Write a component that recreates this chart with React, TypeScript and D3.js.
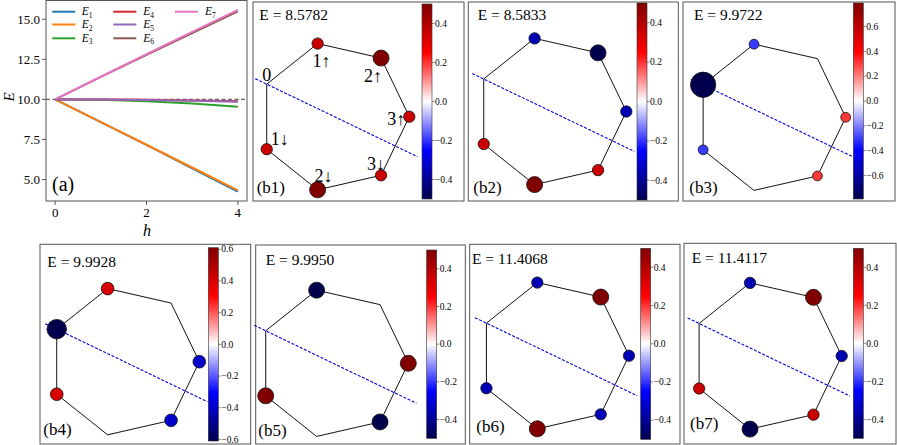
import React from 'react';
import * as d3 from 'd3';

// ---------- Panel (a) data ----------
const hValues = [0, 1, 2, 3, 4];
const E1 = [10, 8.5782, 7.16, 5.7, 4.24];
const E2 = [10, 8.5833, 7.17, 5.75, 4.32];
const E3 = [10, 9.9722, 9.89, 9.74, 9.54];
const E4 = [10, 9.9928, 9.97, 9.93, 9.89];
const E5 = [10, 9.995, 9.96, 9.91, 9.85];
const E6 = [10, 11.4068, 12.78, 14.14, 15.49];
const E7 = [10, 11.4117, 12.82, 14.21, 15.59];
const seriesLabels = ['1', '2', '3', '4', '5', '6', '7'];
const seriesColors = ['#1f77b4', '#ff7f0e', '#2ca02c', '#d62728', '#9467bd', '#8c564b', '#e377c2'];
const yTicksA = [5, 7.5, 10, 12.5, 15];
const xTicksA = [0, 2, 4];

// ---------- Panels (b) data ----------
const siteNames = ['0', '1↑', '2↑', '3↑', '3↓', '2↓', '1↓'];
const siteAngles = [-154.29, -102.86, -51.43, 0, 51.43, 102.86, 154.29];
const bonds = [[0, 1], [1, 2], [2, 3], [3, 4], [4, 5], [5, 6], [6, 0]];
const eigenEnergies = ['8.5782', '8.5833', '9.9722', '9.9928', '9.9950', '11.4068', '11.4117'];
const psiB1 = [0, 0.354, 0.5, 0.354, 0.354, 0.5, 0.354];
const psiB2 = [0, -0.354, -0.5, -0.354, 0.354, 0.5, 0.354];
const psiB3 = [-0.79, -0.307, 0, 0.307, 0.307, 0, -0.307];
const psiB4 = [-0.61, 0.396, 0, -0.396, -0.396, 0, 0.396];
const psiB5 = [0, -0.5, 0, 0.5, -0.5, 0, 0.5];
const psiB6 = [0, -0.354, 0.5, -0.354, -0.354, 0.5, -0.354];
const psiB7 = [0, -0.354, 0.5, -0.354, 0.354, -0.5, 0.354];
const colorLimits = [0.5, 0.5, 0.79, 0.61, 0.5, 0.5, 0.5];
const panelTags = ['(b1)', '(b2)', '(b3)', '(b4)', '(b5)', '(b6)', '(b7)'];
// mirror axis through site 0: from beyond site 0 to beyond the opposite bond
const axisExtent = [1.17, -1.23];

// ---------- layout (positions only) ----------
const frames = [
  { x0: 253, y0: 2, x1: 464, y1: 201, cx: 334.3, cy: 116.7, cb: [422, 4, 199], eT: [259.3, 20], tag: [256.7, 193] },
  { x0: 468.3, y0: 2, x1: 678.3, y1: 201, cx: 551.3, cy: 111.5, cb: [637, 3, 200], eT: [477.7, 20], tag: [473.3, 193] },
  { x0: 683, y0: 2, x1: 895, y1: 201, cx: 770.7, cy: 117.3, cb: [853.3, 3, 199], eT: [694, 20], tag: [689.3, 193] },
  { x0: 40, y0: 244.3, x1: 250.7, y1: 444, cx: 124.3, cy: 361.7, cb: [208.3, 247.7, 441], eT: [47.3, 266.7], tag: [43.3, 435] },
  { x0: 255.7, y0: 245, x1: 465.3, y1: 444, cx: 333.3, cy: 363.3, cb: [426.7, 250, 438.3], eT: [265.7, 265], tag: [258.3, 435.7] },
  { x0: 469.7, y0: 244.3, x1: 680, y1: 444, cx: 554, cy: 355.7, cb: [640.7, 248.3, 439.3], eT: [472, 264.3], tag: [476.3, 431.7] },
  { x0: 684, y0: 243.3, x1: 896, y1: 444, cx: 766.7, cy: 356, cb: [853.3, 248.3, 438.3], eT: [691.7, 263.3], tag: [690, 429] },
];
const siteLabelOffsets = [
  { dx: 0, dy: -3, a: 'middle' },
  { dx: -5, dy: 23, a: 'start' },
  { dx: 1, dy: 24, a: 'end' },
  { dx: -4, dy: 8, a: 'end' },
  { dx: 4, dy: -5, a: 'end' },
  { dx: -3, dy: -8, a: 'start' },
  { dx: 4, dy: -4, a: 'start' },
];

const SERIF = "'Liberation Serif', 'DejaVu Serif', serif";
const FRAME = '#555';
const seismicStops = ['#00004d', '#0000ff', '#ffffff', '#ff0000', '#800000'];

function PanelA() {
  const series = [E1, E2, E3, E4, E5, E6, E7];
  const x = d3.scaleLinear().domain([-0.2, 4.2]).range([46, 247]);
  const y = d3.scaleLinear().domain([3.66, 16.2]).range([201, 0]);
  const line = d3.line<number>().x((_, i) => x(hValues[i])).y((d) => y(d));
  const legendCols = [[52.3, 81.7], [113.3, 143.3], [175, 205]];
  const legendRows = [11.7, 24.5, 38.3];
  return (
    <g>
      <defs>
        <clipPath id="clipA"><rect x={46} y={0} width={201} height={201} /></clipPath>
      </defs>
      <g clipPath="url(#clipA)">
        <line x1={x(-0.2)} x2={x(4.2)} y1={y(10)} y2={y(10)} stroke="#666" strokeWidth={1.2} strokeDasharray="4,2.5" />
        {series.map((s, i) => (
          <path key={i} d={line(s) || ''} fill="none" stroke={seriesColors[i]} strokeWidth={2} />
        ))}
      </g>
      <rect x={46} y={0.5} width={201} height={200.5} fill="none" stroke={FRAME} strokeWidth={1} />
      {yTicksA.map((t) => (
        <g key={t}>
          <line x1={46} x2={42} y1={y(t)} y2={y(t)} stroke={FRAME} />
          <text x={40} y={y(t) + 4.5} textAnchor="end" fontFamily={SERIF} fontSize={13}>{t.toFixed(1)}</text>
        </g>
      ))}
      {xTicksA.map((t) => (
        <g key={t}>
          <line x1={x(t)} x2={x(t)} y1={201} y2={205} stroke={FRAME} />
          <text x={x(t)} y={217} textAnchor="middle" fontFamily={SERIF} fontSize={13}>{t}</text>
        </g>
      ))}
      <text x={147} y={236} textAnchor="middle" fontFamily={SERIF} fontStyle="italic" fontSize={16}>h</text>
      <text transform={`translate(14,97) rotate(-90)`} textAnchor="middle" fontFamily={SERIF} fontStyle="italic" fontSize={15}>E</text>
      <text x={52} y={191} fontFamily={SERIF} fontSize={20}>(a)</text>
      {seriesLabels.map((lab, i) => {
        const c = Math.floor(i / 3);
        const r = i % 3;
        const [lx, tx] = legendCols[c];
        const ly = legendRows[r];
        return (
          <g key={lab}>
            <line x1={lx} x2={lx + 23} y1={ly} y2={ly} stroke={seriesColors[i]} strokeWidth={2} />
            <text x={tx} y={ly + 3.5} fontFamily={SERIF} fontSize={11.5}>
              <tspan fontStyle="italic">E</tspan>
              <tspan fontSize={7.5} dy={2.5}>{lab}</tspan>
            </text>
          </g>
        );
      })}
    </g>
  );
}

function PanelB({ idx, psi }: { idx: number; psi: number[] }) {
  const f = frames[idx];
  const R = 75;
  const sx = d3.scaleLinear().domain([-1, 1]).range([f.cx - R, f.cx + R]);
  const sy = d3.scaleLinear().domain([-1, 1]).range([f.cy - R, f.cy + R]);
  const pts = siteAngles.map((a) => {
    const r = (a * Math.PI) / 180;
    return [sx(Math.cos(r)), sy(Math.sin(r))];
  });
  const vmax = colorLimits[idx];
  const color = d3.scaleLinear<string>()
    .domain([-vmax, -vmax / 2, 0, vmax / 2, vmax])
    .range(seismicStops)
    .clamp(true);
  const rad = d3.scaleLinear().domain([0, 1]).range([0, 16]);
  const a0 = (siteAngles[0] * Math.PI) / 180;
  const ux = Math.cos(a0), uy = Math.sin(a0);
  const [cbx, cby0, cby1] = f.cb;
  const cbScale = d3.scaleLinear().domain([vmax, -vmax]).range([cby0, cby1]);
  const fmt = d3.format('.1f');
  return (
    <g>
      <rect x={f.x0} y={f.y0} width={f.x1 - f.x0} height={f.y1 - f.y0} fill="white" stroke={FRAME} strokeWidth={1} />
      {bonds.map(([a, b], i) => (
        <line key={i} x1={pts[a][0]} y1={pts[a][1]} x2={pts[b][0]} y2={pts[b][1]} stroke="#111" strokeWidth={1} />
      ))}
      <line
        x1={sx(axisExtent[0] * ux)}
        y1={sy(axisExtent[0] * uy)}
        x2={sx(axisExtent[1] * ux)}
        y2={sy(axisExtent[1] * uy)}
        stroke="#0000dd" strokeWidth={1.1} strokeDasharray="3,1.6"
      />
      {psi.map((v, i) =>
        v === 0 ? null : (
          <circle key={i} cx={pts[i][0]} cy={pts[i][1]} r={rad(Math.abs(v))} fill={color(v)} stroke="#111" strokeWidth={0.8} />
        )
      )}
      {idx === 0 &&
        siteNames.map((n, i) => (
          <text key={n} x={pts[i][0] + siteLabelOffsets[i].dx} y={pts[i][1] + siteLabelOffsets[i].dy}
            textAnchor={siteLabelOffsets[i].a as any} fontFamily={SERIF} fontSize={18}>{n}</text>
        ))}
      <text x={f.eT[0]} y={f.eT[1]} fontFamily={SERIF} fontSize={15.5}>E = {eigenEnergies[idx]}</text>
      <text x={f.tag[0]} y={f.tag[1]} fontFamily={SERIF} fontSize={17}>{panelTags[idx]}</text>
      <rect x={cbx} y={cby0} width={10} height={cby1 - cby0} fill="url(#seismic)" stroke="#333" strokeWidth={0.6} />
      {cbScale.ticks(5).map((t) => (
        <g key={t}>
          <line x1={cbx + 10} x2={cbx + 12.5} y1={cbScale(t)} y2={cbScale(t)} stroke="#333" strokeWidth={0.6} />
          <text x={cbx + 13} y={cbScale(t) + 3.2} fontFamily={SERIF} fontSize={9.5}>{fmt(t)}</text>
        </g>
      ))}
    </g>
  );
}

export default function App() {
  const psis = [psiB1, psiB2, psiB3, psiB4, psiB5, psiB6, psiB7];
  return (
    <div style={{ position: 'absolute', left: 0, top: 0 }}>
      <svg width={897} height={445} style={{ display: 'block', background: 'white' }}>
        <defs>
          <linearGradient id="seismic" x1="0" y1="1" x2="0" y2="0">
            {seismicStops.map((c, i) => (
              <stop key={i} offset={`${i * 25}%`} stopColor={c} />
            ))}
          </linearGradient>
        </defs>
        <PanelA />
        {psis.map((p, i) => (
          <PanelB key={i} idx={i} psi={p} />
        ))}
      </svg>
    </div>
  );
}
